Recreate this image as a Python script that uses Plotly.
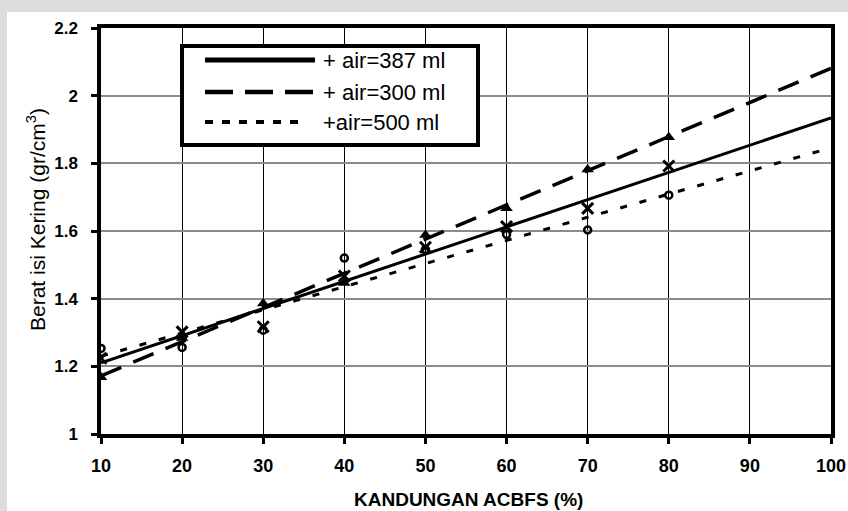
import plotly.graph_objects as go

# ---- data ----
kandungan = [10, 20, 30, 40, 50, 60, 70, 80]
air_387 = [1.224, 1.302, 1.317, 1.467, 1.552, 1.613, 1.667, 1.792]
air_300 = [1.168, 1.284, 1.386, 1.446, 1.588, 1.667, 1.782, 1.877]
air_500 = [1.253, 1.256, 1.307, 1.520, 1.545, 1.590, 1.603, 1.706]

trend_x = [10, 100]
trend_387 = [1.210, 1.934]
trend_300 = [1.172, 2.081]
trend_500 = [1.230, 1.846]

legend_labels = ["+ air=387 ml", "+ air=300 ml", "+air=500 ml"]
x_ticks = [10, 20, 30, 40, 50, 60, 70, 80, 90, 100]
y_ticks = [1, 1.2, 1.4, 1.6, 1.8, 2, 2.2]

FONT = "Liberation Sans, Arial, sans-serif"
W, H = 848, 511
L, R, T, B = 101, 17, 28, 77
PW, PH = W - L - R, H - T - B


def px(xp):
    return (xp - L) / PW


def py(yp):
    return (H - B - yp) / PH


fig = go.Figure()

dash_300 = "22px,13px"
dot_500 = "7px,13px"

fig.add_trace(go.Scatter(x=trend_x, y=trend_387, mode="lines",
                         line=dict(color="black", width=3), showlegend=False, hoverinfo="skip"))
fig.add_trace(go.Scatter(x=trend_x, y=trend_300, mode="lines",
                         line=dict(color="black", width=3.5, dash=dash_300), showlegend=False, hoverinfo="skip"))
fig.add_trace(go.Scatter(x=trend_x, y=trend_500, mode="lines",
                         line=dict(color="black", width=3, dash=dot_500), showlegend=False, hoverinfo="skip"))

fig.add_trace(go.Scatter(x=kandungan, y=air_300, mode="markers",
                         marker=dict(symbol="triangle-up", size=11, color="black"),
                         showlegend=False))
fig.add_trace(go.Scatter(x=kandungan, y=air_500, mode="markers",
                         marker=dict(symbol="circle-open", size=7, color="black",
                                     line=dict(width=2.5, color="black")),
                         showlegend=False))
fig.add_trace(go.Scatter(x=kandungan, y=air_387, mode="markers",
                         marker=dict(symbol="x-thin", size=11, color="black",
                                     line=dict(width=3, color="black")),
                         showlegend=False))

shapes = []
# light grey page margins (top and left strips)
shapes.append(dict(type="rect", xref="paper", yref="paper", layer="below",
                   x0=px(-5), x1=px(W + 5), y0=py(12), y1=py(-5),
                   fillcolor="#dcdcdc", line=dict(width=0)))
shapes.append(dict(type="rect", xref="paper", yref="paper", layer="below",
                   x0=px(-5), x1=px(7), y0=py(H + 5), y1=py(12),
                   fillcolor="#dcdcdc", line=dict(width=0)))
# white page on the right side
shapes.append(dict(type="rect", xref="paper", yref="paper", layer="below",
                   x0=px(833), x1=px(W + 20), y0=py(H + 5), y1=py(12),
                   fillcolor="white", line=dict(width=0)))

# custom legend box
shapes.append(dict(type="rect", xref="paper", yref="paper", layer="above",
                   x0=px(182), x1=px(478), y0=py(145), y1=py(46),
                   fillcolor="white", line=dict(color="black", width=4)))
legend_y = [60, 92, 122]
legend_styles = [dict(width=5, dash="solid"),
                 dict(width=4.5, dash="28px,12px"),
                 dict(width=4, dash="8px,9px")]
legend_x1 = [315, 315, 300]
annotations = []
for lab, yy, st, x1 in zip(legend_labels, legend_y, legend_styles, legend_x1):
    shapes.append(dict(type="line", xref="paper", yref="paper", layer="above",
                       x0=px(205), x1=px(x1), y0=py(yy), y1=py(yy),
                       line=dict(color="black", width=st["width"], dash=st["dash"])))
    annotations.append(dict(text=lab, xref="paper", yref="paper",
                            x=px(321), y=py(yy), xanchor="left", yanchor="middle",
                            showarrow=False, font=dict(family=FONT, size=22, color="black")))

# axis titles
annotations.append(dict(text="<b>KANDUNGAN ACBFS (%)</b>", xref="paper", yref="paper",
                        x=px(468), y=py(499), xanchor="center", yanchor="middle",
                        showarrow=False, font=dict(family=FONT, size=19, color="black")))
annotations.append(dict(text="Berat isi Kering (gr/cm<sup>3</sup>)", xref="paper", yref="paper",
                        x=px(36), y=py(220), xanchor="center", yanchor="middle", textangle=-90,
                        showarrow=False, font=dict(family=FONT, size=21, color="black")))

fig.update_layout(
    width=W, height=H,
    margin=dict(l=L, r=R, t=T, b=B, autoexpand=False),
    paper_bgcolor="white",
    plot_bgcolor="white",
    shapes=shapes,
    annotations=annotations,
    font=dict(family=FONT, color="black"),
)

fig.update_xaxes(range=[10, 100], tickvals=x_ticks, ticktext=[f"<b>{v}</b>" for v in x_ticks],
                 showline=True, linecolor="black", linewidth=3.5, mirror=True,
                 showgrid=True, gridcolor="black", gridwidth=1,
                 ticks="outside", ticklen=6, tickwidth=3, tickcolor="black",
                 ticklabelstandoff=7, automargin=False,
                 tickfont=dict(family=FONT, size=18, color="black"), zeroline=False)
fig.update_yaxes(range=[1, 2.2], tickvals=y_ticks,
                 ticktext=[f"<b>{v:g}</b>" for v in y_ticks],
                 showline=True, linecolor="black", linewidth=3.5, mirror=True,
                 showgrid=True, gridcolor="#8c8c8c", gridwidth=1.5,
                 ticks="outside", ticklen=6, tickwidth=3, tickcolor="black",
                 ticklabelstandoff=10, automargin=False,
                 tickfont=dict(family=FONT, size=17, color="black"), zeroline=False)

fig.write_html("out.html",
               config={"displayModeBar": False, "responsive": False},
               post_script=("document.body.style.margin='0';"
                            "document.body.style.overflow='hidden';"
                            "document.body.style.background='white';"
                            "document.documentElement.style.overflow='hidden';"
                            "document.documentElement.style.background='white';"
                            "var s=document.createElement('style');"
                            "s.textContent='::-webkit-scrollbar{display:none;width:0;height:0}';"
                            "document.head.appendChild(s);"))
